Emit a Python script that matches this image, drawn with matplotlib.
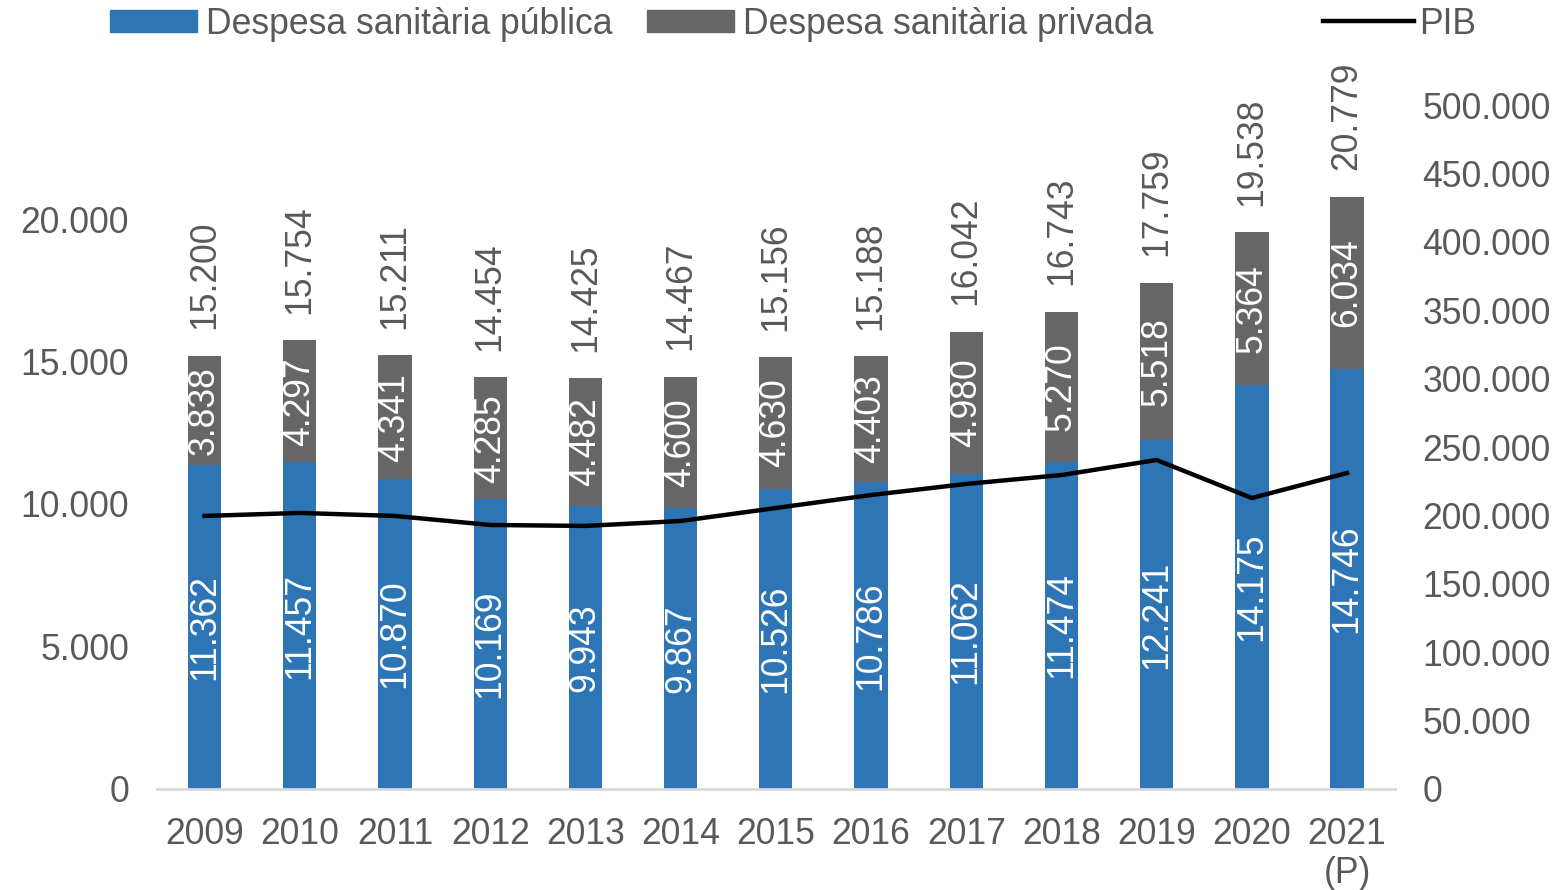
import numpy as np
import matplotlib.pyplot as plt
from matplotlib.patches import Patch
from matplotlib.lines import Line2D

plt.rcParams['font.family'] = ['Liberation Sans', 'DejaVu Sans']

years = ["2009", "2010", "2011", "2012", "2013", "2014", "2015",
         "2016", "2017", "2018", "2019", "2020", "2021\n(P)"]
publica = [11362, 11457, 10870, 10169, 9943, 9867, 10526,
           10786, 11062, 11474, 12241, 14175, 14746]
privada = [3838, 4297, 4341, 4285, 4482, 4600, 4630,
           4403, 4980, 5270, 5518, 5364, 6034]
total = [15200, 15754, 15211, 14454, 14425, 14467, 15156,
         15188, 16042, 16743, 17759, 19538, 20779]
pib = [199600, 201800, 199600, 193000, 192300, 195900, 205400,
       214900, 223000, 229500, 240500, 212700, 231000]

BLUE = "#2E75B6"
GREY = "#666666"
TXT = "#595959"


def fmt(v):
    return f"{v:,}".replace(",", ".")


fig = plt.figure(figsize=(15.63, 8.9), dpi=100)
ax = fig.add_axes([0.1004, 0.1135, 0.7919, 0.7685])
ax2 = ax.twinx()

x = np.arange(len(years))
w = 0.35
ax.bar(x, publica, w, color=BLUE, zorder=2)
ax.bar(x, privada, w, bottom=publica, color=GREY, zorder=2)

fs = 25.6
for i in range(len(x)):
    ax.text(x[i], publica[i] / 2, fmt(publica[i]), rotation=90, ha="center",
            va="center", color="white", fontsize=fs, zorder=3)
    ax.text(x[i], publica[i] + privada[i] / 2, fmt(privada[i]), rotation=90,
            ha="center", va="center", color="white", fontsize=fs, zorder=3)
    ax.annotate(fmt(total[i]), (x[i], total[i]), xytext=(0, 19),
                textcoords="offset points", rotation=90, ha="center",
                va="bottom", color=TXT, fontsize=fs, zorder=3)

ax2.plot(x, pib, color="black", lw=3.2, zorder=4)

ax.set_xlim(-0.5, len(x) - 0.5)
ax.set_ylim(0, 24000)
ax2.set_ylim(0, 500000)
ax.set_yticks(np.arange(0, 20001, 5000))
ax2.set_yticks(np.arange(0, 500001, 50000))
ax.set_yticklabels([fmt(v) for v in ax.get_yticks().astype(int)])
ax2.set_yticklabels([fmt(v) for v in ax2.get_yticks().astype(int)])
ax.set_xticks(x)
ax.set_xticklabels(years, linespacing=1.15)

for a in (ax, ax2):
    for s in ("top", "left", "right", "bottom"):
        a.spines[s].set_visible(False)
    a.tick_params(length=0, labelsize=fs, colors=TXT)
ax.spines["bottom"].set_visible(True)
ax.spines["bottom"].set_color("#D9D9D9")
ax.spines["bottom"].set_linewidth(2)
ax.tick_params(axis="y", pad=20)
ax.tick_params(axis="x", pad=20)
ax2.tick_params(axis="y", pad=20)
ax.set_zorder(ax2.get_zorder() - 1)
ax.patch.set_visible(True)
ax2.patch.set_visible(False)

h_bars = [Patch(color=BLUE), Patch(color=GREY)]
fig.legend(h_bars, ["Despesa sanitària pública", "Despesa sanitària privada"],
           loc="center left", bbox_to_anchor=(0.0703, 0.973), ncol=2,
           frameon=False, fontsize=fs, handlelength=2.45, handleheight=0.6,
           handletextpad=0.25, columnspacing=0.98, labelcolor=TXT,
           borderaxespad=0, borderpad=0)
fig.legend([Line2D([], [], color="black", lw=3.2)], ["PIB"],
           loc="center left", bbox_to_anchor=(0.8464, 0.973),
           frameon=False, fontsize=fs, handlelength=2.55,
           handletextpad=0.15, labelcolor=TXT, borderaxespad=0,
           borderpad=0)

fig.savefig("out.png", dpi=100)
